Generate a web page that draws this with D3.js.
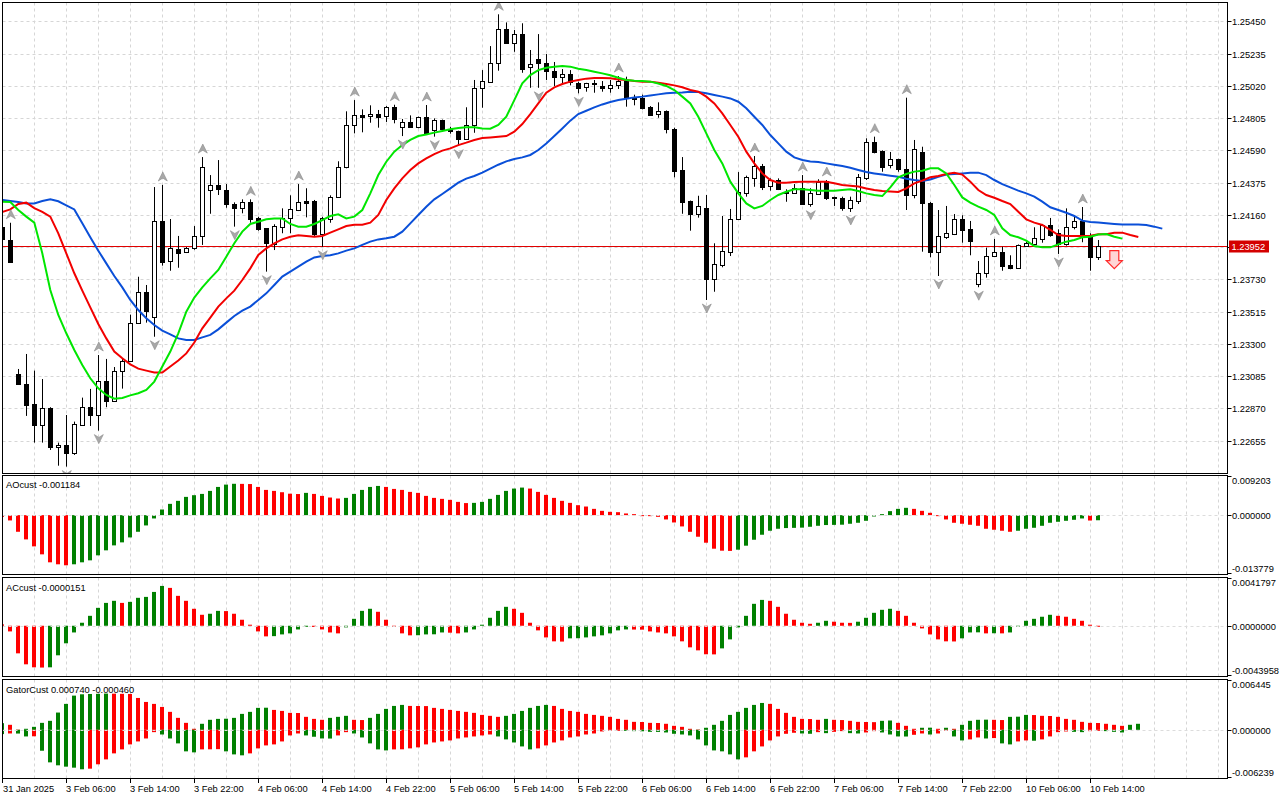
<!DOCTYPE html>
<html><head><meta charset="utf-8">
<script src="https://cdn.jsdelivr.net/npm/d3@7"></script>
<style>body{margin:0;background:#fff;}svg{display:block;font-family:"Liberation Sans",Arial,sans-serif;}</style>
</head><body><svg id="c" width="1280" height="800"></svg>
<script>
// ---------- DATA (bar index starts at -1) ----------
const firstBar = -1;
const open  = [1.24080,1.23992,1.23099,1.23032,1.22899,1.22761,1.22872,1.22610,1.22625,1.22574,1.22761,1.22877,1.22827,1.23052,1.22917,1.23119,1.23183,1.23437,1.23643,1.23477,1.24119,1.23854,1.23932,1.23910,1.23937,1.24017,1.24323,1.24357,1.24323,1.24234,1.24203,1.24245,1.24137,1.24070,1.23967,1.24081,1.24141,1.24194,1.24250,1.24252,1.24032,1.24134,1.24277,1.24477,1.24757,1.24823,1.24817,1.24830,1.24817,1.24877,1.24747,1.24777,1.24747,1.24810,1.24725,1.24792,1.24734,1.24717,1.24667,1.24757,1.25003,1.25047,1.25170,1.25397,1.25307,1.25363,1.25143,1.25197,1.25170,1.25119,1.25077,1.25099,1.25037,1.25010,1.25041,1.25019,1.25003,1.25023,1.25052,1.24941,1.24941,1.24879,1.24830,1.24852,1.24734,1.24459,1.24252,1.24167,1.24205,1.23734,1.23825,1.23914,1.24130,1.24307,1.24407,1.24485,1.24352,1.24390,1.24310,1.24303,1.24337,1.24234,1.24301,1.24385,1.24279,1.24272,1.24207,1.24250,1.24403,1.24643,1.24583,1.24490,1.24530,1.24463,1.24294,1.24579,1.24241,1.23914,1.24014,1.24032,1.24132,1.24065,1.23697,1.23770,1.23887,1.23910,1.23825,1.23807,1.23952,1.23965,1.24001,1.24090,1.24037,1.23965,1.24077,1.24121,1.24021,1.23877];
const high  = [1.24110,1.24107,1.23132,1.23232,1.23121,1.23065,1.22877,1.22641,1.22825,1.22781,1.22941,1.22999,1.23225,1.23199,1.23145,1.23205,1.23494,1.23747,1.23692,1.24345,1.24359,1.24132,1.24019,1.23945,1.24085,1.24545,1.24425,1.24525,1.24365,1.24243,1.24263,1.24263,1.24147,1.24072,1.24097,1.24203,1.24290,1.24365,1.24337,1.24259,1.24147,1.24290,1.24517,1.24850,1.24925,1.24863,1.24890,1.24859,1.24885,1.24894,1.24799,1.24823,1.24815,1.24892,1.24803,1.24795,1.24747,1.24721,1.24877,1.25059,1.25125,1.25285,1.25497,1.25443,1.25392,1.25437,1.25259,1.25365,1.25232,1.25179,1.25132,1.25125,1.25047,1.25040,1.25059,1.25052,1.25059,1.25085,1.25081,1.24961,1.24961,1.24885,1.24910,1.24856,1.24741,1.24545,1.24255,1.24287,1.24292,1.23970,1.24152,1.24199,1.24445,1.24421,1.24552,1.24499,1.24403,1.24403,1.24330,1.24365,1.24425,1.24337,1.24397,1.24392,1.24281,1.24281,1.24281,1.24432,1.24670,1.24681,1.24590,1.24579,1.24534,1.24941,1.24659,1.24614,1.24245,1.24192,1.24219,1.24165,1.24157,1.24119,1.23852,1.23941,1.23999,1.23947,1.23890,1.23962,1.23979,1.24077,1.24099,1.24139,1.24063,1.24203,1.24154,1.24212,1.24037,1.23992];
const low   = [1.23980,1.23845,1.23028,1.22819,1.22641,1.22641,1.22592,1.22487,1.22481,1.22559,1.22752,1.22752,1.22721,1.22877,1.22915,1.23001,1.23181,1.23435,1.23441,1.23347,1.23821,1.23787,1.23807,1.23905,1.23927,1.23959,1.24167,1.24292,1.24207,1.24081,1.24170,1.24107,1.24054,1.23781,1.23925,1.24037,1.24037,1.24185,1.24143,1.24019,1.23947,1.24107,1.24275,1.24470,1.24703,1.24710,1.24774,1.24741,1.24779,1.24770,1.24685,1.24739,1.24737,1.24699,1.24681,1.24730,1.24701,1.24621,1.24665,1.24707,1.24874,1.25041,1.25121,1.25305,1.25247,1.25107,1.25007,1.25007,1.25059,1.25019,1.25037,1.25023,1.24970,1.24981,1.24974,1.24981,1.24974,1.24999,1.24881,1.24890,1.24863,1.24819,1.24807,1.24703,1.24410,1.24167,1.24054,1.24141,1.23592,1.23647,1.23810,1.23885,1.24128,1.24281,1.24347,1.24325,1.24321,1.24325,1.24247,1.24301,1.24232,1.24214,1.24299,1.24259,1.24219,1.24187,1.24179,1.24232,1.24392,1.24570,1.24447,1.24470,1.24447,1.24192,1.24270,1.23914,1.23877,1.23752,1.23999,1.24025,1.23974,1.23890,1.23677,1.23741,1.23881,1.23787,1.23797,1.23801,1.23947,1.23963,1.23974,1.24014,1.23899,1.23954,1.24063,1.23977,1.23787,1.23859];
const close = [1.23997,1.23847,1.23030,1.22894,1.22761,1.22872,1.22610,1.22625,1.22574,1.22765,1.22877,1.22827,1.23052,1.22917,1.23119,1.23183,1.23437,1.23643,1.23521,1.24119,1.23847,1.23937,1.23907,1.23937,1.24017,1.24479,1.24357,1.24330,1.24230,1.24203,1.24245,1.24134,1.24067,1.23970,1.24087,1.24141,1.24197,1.24243,1.24241,1.24032,1.24139,1.24277,1.24477,1.24757,1.24823,1.24814,1.24832,1.24810,1.24877,1.24801,1.24777,1.24745,1.24810,1.24703,1.24792,1.24734,1.24717,1.24667,1.24757,1.25003,1.25052,1.25170,1.25397,1.25307,1.25363,1.25134,1.25163,1.25170,1.25119,1.25081,1.25099,1.25043,1.25007,1.25037,1.25030,1.25007,1.25023,1.25054,1.24941,1.24930,1.24874,1.24825,1.24850,1.24730,1.24454,1.24247,1.24167,1.24219,1.23734,1.23830,1.23919,1.24132,1.24310,1.24412,1.24485,1.24347,1.24392,1.24334,1.24307,1.24337,1.24234,1.24305,1.24379,1.24274,1.24277,1.24207,1.24257,1.24410,1.24643,1.24581,1.24480,1.24530,1.24463,1.24294,1.24597,1.24237,1.23914,1.24019,1.24037,1.24132,1.24059,1.23987,1.23770,1.23883,1.23910,1.23821,1.23807,1.23959,1.23970,1.24003,1.24090,1.24027,1.23967,1.24077,1.24121,1.24021,1.23877,1.23952];

// Alligator lines (bar -1 onward)
const jaw = [1.24259,1.24252,1.24245,1.24236,1.24236,1.24252,1.24263,1.2425,1.24223,1.24196,1.24103,1.2401,1.23921,1.23836,1.23752,1.23676,1.23592,1.23525,1.2347,1.23425,1.23388,1.23363,1.23336,1.23325,1.23325,1.23343,1.23359,1.23396,1.23441,1.23485,1.23521,1.23548,1.23592,1.23636,1.23692,1.23748,1.23781,1.23814,1.23848,1.23876,1.23885,1.2389,1.23903,1.23921,1.23936,1.23959,1.23981,1.23996,1.24003,1.24014,1.24048,1.24103,1.24159,1.24214,1.24263,1.24299,1.24336,1.24374,1.24401,1.24419,1.24441,1.24468,1.24494,1.24516,1.24532,1.24543,1.24559,1.24592,1.24636,1.24685,1.24736,1.24788,1.24832,1.24854,1.24876,1.24896,1.24912,1.24925,1.24934,1.24943,1.24948,1.24956,1.24963,1.2497,1.24974,1.24976,1.24981,1.24979,1.2497,1.24959,1.24948,1.24936,1.24914,1.2487,1.24814,1.24759,1.24692,1.24636,1.24581,1.24543,1.24525,1.24516,1.24512,1.24503,1.24494,1.24485,1.24474,1.24459,1.24445,1.24436,1.24428,1.24421,1.24414,1.24401,1.24392,1.24385,1.24396,1.24414,1.24428,1.24432,1.24436,1.24441,1.24441,1.24425,1.24392,1.24365,1.24343,1.24321,1.24303,1.24281,1.24248,1.2421,1.24192,1.24174,1.24152,1.24121,1.24112,1.24108,1.24103,1.24099,1.24096,1.24096,1.24096,1.24092,1.24081,1.24068];
const teeth = [1.24179,1.24196,1.24232,1.24241,1.24205,1.24179,1.24148,1.24036,1.23903,1.2377,1.23654,1.23543,1.23432,1.23336,1.23248,1.23203,1.23163,1.23134,1.23121,1.23108,1.23108,1.23148,1.23188,1.23236,1.23308,1.23403,1.23474,1.23548,1.23603,1.23654,1.23725,1.23803,1.23892,1.23936,1.2397,1.23996,1.24014,1.24023,1.24019,1.24014,1.24019,1.24041,1.24063,1.24085,1.24094,1.24094,1.24108,1.24159,1.24259,1.24336,1.24403,1.24459,1.24503,1.24536,1.24565,1.24588,1.24603,1.24625,1.24641,1.24659,1.24672,1.24676,1.24681,1.24685,1.24714,1.24765,1.24832,1.24903,1.24974,1.2501,1.25032,1.25048,1.25059,1.25068,1.25072,1.25072,1.2507,1.25063,1.25059,1.25052,1.25048,1.25048,1.25041,1.25032,1.25023,1.2501,1.24992,1.24981,1.24948,1.24903,1.24836,1.24759,1.24681,1.24581,1.24503,1.24436,1.24392,1.24374,1.24374,1.24379,1.24381,1.24381,1.24381,1.24381,1.2437,1.24359,1.24354,1.24348,1.24336,1.24325,1.24319,1.24316,1.24312,1.24336,1.2437,1.24388,1.2441,1.24419,1.24432,1.24441,1.24428,1.24381,1.24325,1.24292,1.24274,1.24252,1.24232,1.24181,1.2413,1.24108,1.24092,1.24059,1.24025,1.24019,1.24019,1.24019,1.24021,1.2403,1.2403,1.24041,1.24041,1.24025,1.24012];
const lips = [1.24248,1.24245,1.24192,1.24148,1.24108,1.23903,1.23659,1.23492,1.2337,1.23259,1.23159,1.2307,1.23003,1.22959,1.22934,1.22939,1.22956,1.2297,1.22992,1.23048,1.23148,1.23248,1.2337,1.23514,1.23608,1.23676,1.23736,1.23792,1.23881,1.2397,1.24048,1.24099,1.24114,1.2413,1.24136,1.24136,1.24099,1.24081,1.24081,1.24099,1.24125,1.24152,1.24163,1.24136,1.24148,1.24192,1.24303,1.24425,1.24514,1.24581,1.24625,1.24659,1.24685,1.24696,1.24708,1.24719,1.2473,1.24739,1.24743,1.24743,1.24736,1.24734,1.24759,1.24814,1.24925,1.25036,1.25092,1.25125,1.25141,1.25148,1.25152,1.25148,1.25134,1.25125,1.25114,1.25103,1.2509,1.25074,1.25059,1.25054,1.25052,1.25048,1.25036,1.25019,1.24992,1.24948,1.24903,1.24814,1.24703,1.24592,1.24503,1.24381,1.24303,1.24236,1.24203,1.24219,1.24259,1.24292,1.24314,1.2433,1.2433,1.24325,1.24321,1.24321,1.24321,1.24325,1.2433,1.24319,1.24303,1.24292,1.24285,1.24343,1.2441,1.24432,1.24448,1.24454,1.2447,1.2447,1.24436,1.24359,1.24276,1.24241,1.24214,1.24192,1.24159,1.2407,1.24025,1.2401,1.23988,1.23952,1.23943,1.23943,1.23963,1.23981,1.23992,1.2401,1.24014,1.24028,1.24032,1.24014,1.24001];

// Oscillators (bar -1 onward)
const aoValues = [-0.00039,-0.00123,-0.00386,-0.00563,-0.00725,-0.0091,-0.01095,-0.01141,-0.01164,-0.01141,-0.01095,-0.01049,-0.00933,-0.00817,-0.00702,-0.00632,-0.00517,-0.00386,-0.00239,-0.00077,0.00131,0.00262,0.00332,0.00424,0.00463,0.00493,0.00563,0.00655,0.00709,0.00728,0.00726,0.00722,0.00655,0.00586,0.00563,0.00532,0.00498,0.0049,0.00517,0.00493,0.00447,0.00409,0.00386,0.00401,0.00493,0.00586,0.00655,0.00678,0.00655,0.00609,0.00586,0.0054,0.00517,0.00447,0.00401,0.00378,0.00355,0.00308,0.0028,0.00285,0.00308,0.00378,0.0047,0.00563,0.00617,0.0064,0.00617,0.0054,0.0047,0.00401,0.00332,0.00285,0.00231,0.002,0.00146,0.001,0.00077,0.00069,0.00039,0.00023,-0.00005,-0.00023,-0.00039,-0.001,-0.0017,-0.00262,-0.00386,-0.00501,-0.0064,-0.00779,-0.00825,-0.0083,-0.00802,-0.00709,-0.00571,-0.00455,-0.00362,-0.00316,-0.003,-0.00295,-0.0029,-0.0027,-0.00247,-0.0023,-0.00226,-0.00222,-0.002,-0.00177,-0.00131,-0.00031,0.00023,0.00093,0.00146,0.0017,0.00146,0.001,0.00054,-0.00023,-0.001,-0.00177,-0.002,-0.00224,-0.00247,-0.00316,-0.00339,-0.00362,-0.00386,-0.00362,-0.00316,-0.00293,-0.00247,-0.00177,-0.00154,-0.00131,-0.00108,-0.00077,-0.00125,-0.001184];
const acValues = [0.00012,-0.00049,-0.00239,-0.00334,-0.0036,-0.00362,-0.0036,-0.00256,-0.00152,-0.00058,0.00026,0.00086,0.00155,0.00198,0.00216,0.00198,0.00207,0.00242,0.0025,0.00293,0.00345,0.00328,0.00259,0.00216,0.00147,0.00095,0.00104,0.00129,0.00127,0.00104,0.00052,0.00009,-0.00049,-0.00092,-0.0009,-0.00075,-0.00066,-0.00032,-0.00009,-0.0001,-0.00032,-0.00058,-0.00066,-0.00014,0.0006,0.00129,0.00147,0.00121,0.00052,-0.00009,-0.00066,-0.00083,-0.00082,-0.00075,-0.00074,-0.00058,-0.0006,-0.00066,-0.00058,-0.00032,0.00009,0.00069,0.00129,0.00164,0.00147,0.00112,0.00026,-0.0004,-0.00101,-0.00135,-0.00137,-0.00109,-0.00108,-0.00101,-0.00092,-0.00083,-0.00066,-0.0004,-0.00032,-0.00033,-0.00034,-0.00049,-0.00058,-0.00066,-0.00092,-0.00135,-0.00187,-0.00213,-0.00247,-0.00248,-0.00196,-0.00118,-0.00014,0.00086,0.0019,0.00224,0.00216,0.00164,0.00104,0.00052,0.00026,0.00017,0.00026,0.00043,0.00035,0.00026,0.00025,0.00035,0.00069,0.00112,0.00138,0.00147,0.00129,0.00086,0.00026,-0.00023,-0.00075,-0.00118,-0.00135,-0.00136,-0.00109,-0.00058,-0.00057,-0.00066,-0.00065,-0.00066,-0.00058,-0.00009,0.00043,0.0006,0.00078,0.00095,0.00086,0.00078,0.0006,0.00043,0.00009,-0.0000151];
const gatorUp = [0.00085,0.00064,0.00001,0.00013,0.00038,0.00089,0.00115,0.00221,0.00332,0.00438,0.00455,0.00459,0.00461,0.00464,0.00463,0.00461,0.00459,0.00408,0.00357,0.00332,0.00293,0.0023,0.00153,0.00089,0.00013,0.00077,0.00128,0.0014,0.00142,0.00153,0.00204,0.0023,0.00281,0.00283,0.00255,0.00242,0.00217,0.00215,0.00166,0.0014,0.00128,0.00153,0.00166,0.00179,0.00128,0.00125,0.00153,0.00204,0.00268,0.00306,0.00319,0.00306,0.00305,0.00304,0.00281,0.00268,0.00255,0.00242,0.0023,0.00217,0.00191,0.00179,0.00166,0.00179,0.00204,0.00242,0.00281,0.00306,0.00319,0.00306,0.00268,0.00242,0.0023,0.00204,0.00191,0.00179,0.00166,0.0014,0.00128,0.00102,0.001,0.00089,0.00087,0.00077,0.00051,0.00038,0.00013,0.00002,0.00026,0.00064,0.00115,0.00191,0.0023,0.00281,0.00319,0.00344,0.00332,0.00268,0.00217,0.00166,0.0014,0.00138,0.00128,0.0014,0.00128,0.00125,0.00115,0.00102,0.001,0.00098,0.00115,0.00119,0.00089,0.00051,0.00013,0.00026,0.00027,0.00013,0.00026,0.00013,0.00064,0.00115,0.00128,0.0013,0.00128,0.00125,0.00166,0.00168,0.00191,0.00189,0.00179,0.00177,0.00166,0.0014,0.00128,0.00102,0.00089,0.00087,0.00077,0.00064,0.00051,0.00064,0.00077];
const gatorDown = [-0.00055,-0.00047,-0.00048,-0.00085,-0.00083,-0.00268,-0.00417,-0.00455,-0.00472,-0.00485,-0.00506,-0.00498,-0.00442,-0.00379,-0.00302,-0.00251,-0.00187,-0.00149,-0.00111,-0.0003,-0.0006,-0.00111,-0.00174,-0.00276,-0.00289,-0.00251,-0.0025,-0.00248,-0.00276,-0.00315,-0.00327,-0.00302,-0.00238,-0.002,-0.00187,-0.00149,-0.00072,-0.00047,-0.00072,-0.00089,-0.00111,-0.00112,-0.00072,-0.0003,-0.00047,-0.00098,-0.00174,-0.00251,-0.00264,-0.00251,-0.0025,-0.00238,-0.00225,-0.00187,-0.00162,-0.00149,-0.00136,-0.00111,-0.00098,-0.00085,-0.00072,-0.0006,-0.00085,-0.00123,-0.00162,-0.00213,-0.00251,-0.00238,-0.002,-0.00162,-0.00136,-0.00098,-0.00085,-0.0006,-0.00047,-0.00021,-0.00009,-0.00004,-0.00013,-0.00017,-0.00019,-0.00026,-0.00027,-0.00034,-0.00051,-0.0006,-0.00072,-0.00123,-0.002,-0.00264,-0.00276,-0.00315,-0.00379,-0.00353,-0.00276,-0.00213,-0.00136,-0.00085,-0.00051,-0.00038,-0.00047,-0.00051,-0.0003,-0.00043,-0.00026,-0.00017,-0.00043,-0.00047,-0.00034,-0.00017,-0.00034,-0.0006,-0.00085,-0.00086,-0.00064,-0.00047,-0.0006,-0.00047,-0.00009,-0.00085,-0.00136,-0.00123,-0.00098,-0.00111,-0.00106,-0.00174,-0.00187,-0.00149,-0.00136,-0.0014,-0.00123,-0.00085,-0.0003,-0.00021,-0.00026,-0.0003,-0.00017,-0.00013,-0.00017,-0.00026,-0.00034];

// Fractals & signal
const fractalUpBars = [0,11,19,24,30,36,43,48,52,61,76,93,99,102,108,112,123,134];
const fractalDownBars = [7,11,18,28,32,39,49,53,56,66,71,87,100,105,116,121,131];
const signalBars = [138];
const signalPrices = [1.23921];

// Axes
const currentPrice = 1.23952;
const priceTicks = [1.25450,1.25235,1.25020,1.24805,1.24590,1.24375,1.24160,1.23945,1.23730,1.23515,1.23300,1.23085,1.22870,1.22655];
const timeTickBars = [-1,7,15,23,31,39,47,55,63,71,79,87,95,103,111,119,127,135];
const timeTickLabels = ["31 Jan 2025","3 Feb 06:00","3 Feb 14:00","3 Feb 22:00","4 Feb 06:00","4 Feb 14:00","4 Feb 22:00","5 Feb 06:00","5 Feb 14:00","5 Feb 22:00","6 Feb 06:00","6 Feb 14:00","6 Feb 22:00","7 Feb 06:00","7 Feb 14:00","7 Feb 22:00","10 Feb 06:00","10 Feb 14:00"];
const aoRange = [-0.013779, 0.009203];
const acRange = [-0.0043958, 0.0041797];
const gatorRange = [-0.006239, 0.006445];
const aoAxisLabels = ["0.009203","0.000000","-0.013779"];
const acAxisLabels = ["0.0041797","0.0000000","-0.0043958"];
const gatorAxisLabels = ["0.006445","0.000000","-0.006239"];

// ---------- DRAW ----------
const svg = d3.select('#c');
const FS = "9.3px";
const LEFT = 2.5, RIGHT = 1227.5;
const x = d3.scaleLinear().domain([0,152]).range([10.3,1226.3]);
const px = b => Math.floor(x(b));
const GREEN = "#008000", RED = "#ff0000";
const GRID = "#d6d6d6";

svg.append("rect").attr("width",1280).attr("height",800).attr("fill","#fff");

const panels = {
  main: {top:2.5, bottom:473.5},
  ao: {top:475.5, bottom:574.5},
  ac: {top:577.5, bottom:676.5},
  gator: {top:679.5, bottom:778.5}
};
const defs = svg.append("defs");
Object.entries(panels).forEach(([k,p])=>{
  defs.append("clipPath").attr("id","clip-"+k).append("rect")
    .attr("x",LEFT+0.5).attr("y",p.top+0.5).attr("width",RIGHT-LEFT-1).attr("height",p.bottom-p.top-1);
});

const yMain = d3.scaleLinear().domain([1.22445,1.25579]).range([472,2]);
const yAO = d3.scaleLinear().domain(aoRange).range([574.5,475.5]);
const yAC = d3.scaleLinear().domain(acRange).range([676.5,577.5]);
const yG  = d3.scaleLinear().domain(gatorRange).range([778.5,679.5]);

// vertical grid in all panels
const gridBars = d3.range(3,152,4);
Object.entries(panels).forEach(([k,p])=>{
  const g = svg.append("g").attr("clip-path",`url(#clip-${k})`);
  g.selectAll("line").data(gridBars).join("line")
    .attr("x1",b=>px(b)+0.5).attr("x2",b=>px(b)+0.5)
    .attr("y1",p.top).attr("y2",p.bottom)
    .attr("stroke",GRID).attr("stroke-dasharray","3,3").attr("stroke-width",1);
});

// ---------- main panel ----------
const gm = svg.append("g").attr("clip-path","url(#clip-main)");
gm.selectAll("line.hg").data(priceTicks).join("line").attr("class","hg")
  .attr("x1",LEFT).attr("x2",RIGHT)
  .attr("y1",d=>Math.round(yMain(d))+0.5).attr("y2",d=>Math.round(yMain(d))+0.5)
  .attr("stroke",GRID).attr("stroke-dasharray","3,3");
gm.append("line").attr("x1",LEFT).attr("x2",RIGHT)
  .attr("y1",Math.round(yMain(currentPrice))+0.5).attr("y2",Math.round(yMain(currentPrice))+0.5)
  .attr("stroke","#e00000").attr("stroke-width",1);

const idx = d3.range(open.length);
gm.selectAll("line.wick").data(idx).join("line").attr("class","wick")
  .attr("x1",i=>px(i+firstBar)+0.5).attr("x2",i=>px(i+firstBar)+0.5)
  .attr("y1",i=>yMain(high[i])).attr("y2",i=>yMain(low[i]))
  .attr("stroke","#000").attr("stroke-width",1);
gm.selectAll("rect.body").data(idx).join("rect").attr("class","body")
  .each(function(i){
    const b = i+firstBar, bull = close[i] >= open[i];
    const yt = Math.round(yMain(Math.max(open[i],close[i])));
    const yb = Math.round(yMain(Math.min(open[i],close[i])));
    const h = Math.max(1, yb-yt);
    const s = d3.select(this);
    if(bull){
      s.attr("x",px(b)-1.5).attr("y",yt+0.5).attr("width",4).attr("height",h)
       .attr("fill","#fff").attr("stroke","#000").attr("stroke-width",1);
    } else {
      s.attr("x",px(b)-2).attr("y",yt).attr("width",5).attr("height",Math.max(2,h+1))
       .attr("fill","#000");
    }
  });

const lineGen = arr => d3.line().x((d,i)=>x(i+firstBar)).y(d=>yMain(d))(arr);
gm.append("path").attr("d",lineGen(jaw)).attr("fill","none").attr("stroke","#0a4fd8").attr("stroke-width",2);
gm.append("path").attr("d",lineGen(teeth)).attr("fill","none").attr("stroke","#f20000").attr("stroke-width",2);
gm.append("path").attr("d",lineGen(lips)).attr("fill","none").attr("stroke","#00e600").attr("stroke-width",2);

const upArrow = "M0,0 L4.5,9 L0,6.2 L-4.5,9 Z";
const dnArrow = "M0,0 L4.5,-9 L0,-6.2 L-4.5,-9 Z";
gm.selectAll("path.fu").data(fractalUpBars).join("path").attr("class","fu")
  .attr("d",upArrow)
  .attr("transform",b=>`translate(${x(b)+0.5},${yMain(high[b-firstBar])-13})`)
  .attr("fill","#a8a8a8").attr("stroke","#8c8c8c").attr("stroke-width",0.6);
gm.selectAll("path.fd").data(fractalDownBars).join("path").attr("class","fd")
  .attr("d",dnArrow)
  .attr("transform",b=>`translate(${x(b)+0.5},${yMain(low[b-firstBar])+13})`)
  .attr("fill","#a8a8a8").attr("stroke","#8c8c8c").attr("stroke-width",0.6);

const sigPath = "M-4.5,0 L4.5,0 L4.5,10 L8,10 L0,18 L-8,10 L-4.5,10 Z";
gm.selectAll("path.sig").data(signalBars).join("path").attr("class","sig")
  .attr("d",sigPath)
  .attr("transform",(b,i)=>`translate(${x(b)},${yMain(signalPrices[i])})`)
  .attr("fill","#ffd6d6").attr("stroke","#ff2a2a").attr("stroke-width",1.2);

// ---------- histograms ----------
function colorSeries(arr, firstColor, useAbs){
  return arr.map((v,i)=>{
    if(i===0) return firstColor;
    const a = useAbs?Math.abs(v):v, p = useAbs?Math.abs(arr[i-1]):arr[i-1];
    return a > p ? GREEN : RED;
  });
}
function histogram(panelKey, yS, values, colors){
  const g = svg.append("g").attr("clip-path",`url(#clip-${panelKey})`);
  const y0 = yS(0);
  g.selectAll("rect").data(values).join("rect")
    .attr("x",(v,i)=>px(i+firstBar)-2)
    .attr("width",4)
    .attr("y",v=>Math.min(yS(v),y0))
    .attr("height",v=>Math.max(1,Math.abs(yS(v)-y0)))
    .attr("fill",(v,i)=>colors[i]);
}
histogram("ao", yAO, aoValues, colorSeries(aoValues, RED, false));
histogram("ac", yAC, acValues, colorSeries(acValues, RED, false));
histogram("gator", yG, gatorUp, colorSeries(gatorUp, GREEN, true));
histogram("gator", yG, gatorDown, colorSeries(gatorDown, GREEN, true));

[["ao",yAO],["ac",yAC],["gator",yG]].forEach(([k,yS])=>{
  svg.append("line").attr("clip-path",`url(#clip-${k})`)
    .attr("x1",LEFT).attr("x2",RIGHT)
    .attr("y1",Math.round(yS(0))+0.5).attr("y2",Math.round(yS(0))+0.5)
    .attr("stroke","#dcdcdc").attr("stroke-dasharray","3,3");
});

const titleStyle = s => s.attr("font-size",FS).attr("fill","#000");
svg.append("text").attr("x",6).attr("y",488).text("AOcust -0.001184").call(titleStyle);
svg.append("text").attr("x",6).attr("y",590.5).text("ACcust -0.0000151").call(titleStyle);
svg.append("text").attr("x",6).attr("y",692.5).text("GatorCust 0.000740 -0.000460").call(titleStyle);

// ---------- borders ----------
const border = svg.append("g").attr("stroke","#000").attr("stroke-width",1).attr("fill","none");
Object.values(panels).forEach(p=>{
  border.append("rect").attr("x",LEFT).attr("y",p.top).attr("width",RIGHT-LEFT).attr("height",p.bottom-p.top);
});

// ---------- right price axis ----------
const axisG = svg.append("g");
const yCur = yMain(currentPrice);
priceTicks.forEach(t=>{
  const yy = Math.round(yMain(t))+0.5;
  axisG.append("line").attr("x1",RIGHT).attr("x2",RIGHT+4).attr("y1",yy).attr("y2",yy).attr("stroke","#000");
  if(Math.abs(yMain(t)-yCur) > 8){
    axisG.append("text").attr("x",1232).attr("y",yy).attr("dy","0.35em")
      .attr("font-size",FS).text(d3.format(".5f")(t));
  }
});
axisG.append("rect").attr("x",1229).attr("y",Math.round(yCur)-5.5).attr("width",40).attr("height",12).attr("fill","#d40000");
axisG.append("text").attr("x",1231.5).attr("y",Math.round(yCur)+0.5).attr("dy","0.35em")
  .attr("font-size",FS).attr("fill","#fff").text(d3.format(".5f")(currentPrice));

[[panels.ao,yAO,aoAxisLabels],[panels.ac,yAC,acAxisLabels],[panels.gator,yG,gatorAxisLabels]].forEach(([p,yS,labs])=>{
  const ys = [p.top+1, Math.round(yS(0))+0.5, p.bottom-1];
  const ty = [p.top+5, Math.round(yS(0))+0.5, p.bottom-6];
  ys.forEach((yy,k)=>{
    axisG.append("line").attr("x1",RIGHT).attr("x2",RIGHT+4).attr("y1",yy).attr("y2",yy).attr("stroke","#000");
    axisG.append("text").attr("x",1232).attr("y",ty[k]).attr("dy","0.35em").attr("font-size",FS).text(labs[k]);
  });
});

// ---------- time axis ----------
timeTickBars.forEach((b,k)=>{
  const xx = k===0 ? LEFT : px(b)+0.5;
  axisG.append("line").attr("x1",xx).attr("x2",xx).attr("y1",778.5).attr("y2",783).attr("stroke","#000");
  axisG.append("text").attr("x",k===0?3:xx-0.5).attr("y",792).attr("font-size",FS).text(timeTickLabels[k]);
});
</script>
</body></html>
